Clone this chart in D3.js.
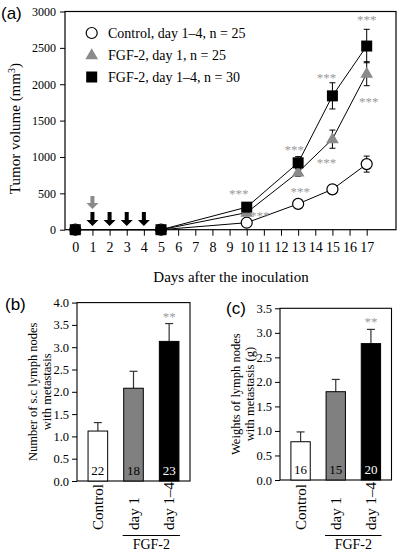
<!DOCTYPE html>
<html><head><meta charset="utf-8">
<script src="https://cdn.jsdelivr.net/npm/d3@7"></script>
<style>body{margin:0;background:#fff}svg{display:block}
.serif{font-family:"Liberation Serif","DejaVu Serif",serif}
.sans{font-family:"Liberation Sans","DejaVu Sans",sans-serif}
</style>
</head><body>
<svg id="c" width="400" height="552"></svg>
<script>
// ---------- data ----------
const days = [0, 5, 10, 13, 15, 17];
const controlMean = [0, 0, 96, 355, 555, 902];
const controlErr  = [0, 0, 15, 25, 65, 110];
const fgfDay1Mean = [0, 0, 235, 790, 1245, 2145];
const fgfDay1Err  = [0, 0, 20, 55, 125, 165];
const fgfDay14Mean = [0, 0, 310, 920, 1840, 2525];
const fgfDay14Err  = [0, 0, 30, 85, 180, 230];
const xTicks = d3.range(0, 18);
const yTicksA = [0, 500, 1000, 1500, 2000, 2500, 3000];
const legendLabels = ["Control, day 1\u20134, n = 25", "FGF-2, day 1, n = 25", "FGF-2, day 1\u20134, n = 30"];
const blackArrowDays = [1, 2, 3, 4];
const grayArrowDays = [1];
// significance marks: [day, value, dx, dy]
const starsA = [[10, 310, -8, -14], [10, 235, 13, 2], [13, 920, -4, -14], [13, 790, 2, 19],
                [15, 1840, -6, -19], [15, 1245, -6, 23], [17, 2525, 0, -27], [17, 2145, 2, 27]];

const barCats = ["Control", "day 1", "day 1\u20134"];
const nodesMean = [1.12, 2.08, 3.13];
const nodesErr  = [0.19, 0.38, 0.40];
const nodesN = [22, 18, 23];
const weightMean = [0.78, 1.80, 2.78];
const weightErr  = [0.20, 0.25, 0.29];
const weightN = [16, 15, 20];
const yTicksB = d3.range(0, 4.01, 0.5);
const yTicksC = d3.range(0, 3.51, 0.5);

// ---------- drawing ----------
const svg = d3.select("#c");
const GRAY = "#8a8a8a";
const STAR = "#9a9a9a";
const SERIF = '"Liberation Serif","DejaVu Serif",serif';
const SANS = '"Liberation Sans","DejaVu Sans",sans-serif';

// panel (a)
const A = {l: 65, r: 396, t: 11.5, b: 229.7};
const x = d3.scaleLinear().domain([0, 17]).range([75.3, 366.7]);
const y = d3.scaleLinear().domain([0, 3000]).range([A.b, A.t]);
const ga = svg.append("g");

ga.append("text").attr("x", 1).attr("y", 19).style("font-family", SANS).attr("font-size", 17).text("(a)");

const xAx = ga.append("g").attr("transform", `translate(0,${A.b})`)
  .call(d3.axisBottom(x).tickValues(xTicks).tickSize(6).tickPadding(6).tickFormat(d3.format("d")));
xAx.attr("font-family", null);
xAx.select(".domain").remove();
xAx.selectAll("text").style("font-family", SERIF).attr("font-size", 14).attr("fill", "#000");
const yAx = ga.append("g").attr("transform", `translate(${A.l},0)`)
  .call(d3.axisLeft(y).tickValues(yTicksA).tickSize(5).tickPadding(4).tickFormat(d3.format("d")));
yAx.attr("font-family", null);
yAx.select(".domain").remove();
yAx.selectAll("text").style("font-family", SERIF).attr("font-size", 12).attr("fill", "#000");

ga.append("rect").attr("x", A.l).attr("y", A.t).attr("width", A.r - A.l).attr("height", A.b - A.t)
  .attr("fill", "none").attr("stroke", "#000").attr("stroke-width", 1.2);

ga.append("text").attr("transform", `translate(20,${(A.t + A.b) / 2 + 8}) rotate(-90)`)
  .attr("text-anchor", "middle").style("font-family", SERIF).attr("font-size", 15)
  .call(t => { t.append("tspan").text("Tumor volume (mm"); t.append("tspan").attr("baseline-shift", "super").attr("font-size", 10).text("3"); t.append("tspan").text(")"); });
ga.append("text").attr("x", 231).attr("y", 282).attr("text-anchor", "middle")
  .style("font-family", SERIF).attr("font-size", 15).text("Days after the inoculation");

const line = d3.line().x((d, i) => x(days[i])).y(d => y(d));
const series = [
  {m: controlMean, e: controlErr, type: "circle"},
  {m: fgfDay1Mean, e: fgfDay1Err, type: "tri"},
  {m: fgfDay14Mean, e: fgfDay14Err, type: "sq"}
];
series.forEach(s => {
  ga.append("path").attr("d", line(s.m)).attr("fill", "none").attr("stroke", "#000").attr("stroke-width", 1);
});
series.forEach(s => {
  s.m.forEach((v, i) => {
    if (s.e[i] <= 0) return;
    const cx = x(days[i]);
    const g = ga.append("g").attr("stroke", "#000").attr("stroke-width", 1);
    g.append("line").attr("x1", cx).attr("x2", cx).attr("y1", y(v - s.e[i])).attr("y2", y(v + s.e[i]));
    [v - s.e[i], v + s.e[i]].forEach(w => g.append("line").attr("x1", cx - 3).attr("x2", cx + 3).attr("y1", y(w)).attr("y2", y(w)));
  });
});
function marker(g, type, cx, cy) {
  if (type === "circle") g.append("circle").attr("cx", cx).attr("cy", cy).attr("r", 5.5).attr("fill", "#fff").attr("stroke", "#000").attr("stroke-width", 1.2);
  else if (type === "tri") g.append("path").attr("d", d3.symbol(d3.symbolTriangle, 70)()).attr("transform", `translate(${cx},${cy + 0.5})`).attr("fill", GRAY);
  else g.append("rect").attr("x", cx - 5.5).attr("y", cy - 5.5).attr("width", 11).attr("height", 11).attr("fill", "#000");
}
series.forEach(s => s.m.forEach((v, i) => marker(ga, s.type, x(days[i]), y(v))));

starsA.forEach(([d, v, dx, dy]) => {
  ga.append("text").attr("x", x(d) + dx).attr("y", y(v) + dy + 5).attr("text-anchor", "middle")
    .style("font-family", SERIF).attr("font-size", 13).attr("fill", STAR).text("***");
});

function arrow(g, cx, top, bottom, color) {
  const p = d3.path();
  p.moveTo(cx - 2, top); p.lineTo(cx + 2, top); p.lineTo(cx + 2, bottom - 6); p.lineTo(cx + 6, bottom - 6);
  p.lineTo(cx, bottom); p.lineTo(cx - 6, bottom - 6); p.lineTo(cx - 2, bottom - 6); p.closePath();
  g.append("path").attr("d", p.toString()).attr("fill", color);
}
grayArrowDays.forEach(d => arrow(ga, x(d), 196, 209, GRAY));
blackArrowDays.forEach(d => arrow(ga, x(d), 212, 226, "#000"));

const legY = [33, 55, 77], legTypes = ["circle", "tri", "sq"];
legendLabels.forEach((t, i) => {
  marker(ga, legTypes[i], 91.7, legY[i]);
  ga.append("text").attr("x", 108).attr("y", legY[i] + 5).style("font-family", SERIF).attr("font-size", 14).text(t);
});

// bar panels
function barPanel(opts) {
  const g = svg.append("g");
  const xb = d3.scaleBand().domain(barCats).range([opts.l, opts.r]).paddingInner(0.45).paddingOuter(0.31);
  const yb = d3.scaleLinear().domain([0, opts.max]).range([opts.b, opts.t]);
  g.append("text").attr("x", opts.labX).attr("y", opts.labY).style("font-family", SANS).attr("font-size", 17).text(opts.label);
  const ax = g.append("g").attr("transform", `translate(${opts.l},0)`)
    .call(d3.axisLeft(yb).tickValues(opts.ticks).tickSize(5).tickPadding(3).tickFormat(d3.format(".1f")));
  ax.attr("font-family", null);
  ax.select(".domain").remove();
  ax.selectAll("text").style("font-family", SERIF).attr("font-size", 12.5).attr("fill", "#000");
  g.append("rect").attr("x", opts.l).attr("y", opts.t).attr("width", opts.r - opts.l).attr("height", opts.b - opts.t)
    .attr("fill", "none").attr("stroke", "#000").attr("stroke-width", 1.1);
  const fills = ["#fff", "#808080", "#000"];
  barCats.forEach((c, i) => {
    const bx = xb(c), bw = xb.bandwidth(), cx = bx + bw / 2;
    const top = yb(opts.mean[i]);
    g.append("line").attr("x1", cx).attr("x2", cx).attr("y1", top).attr("y2", yb(opts.mean[i] + opts.err[i])).attr("stroke", "#333").attr("stroke-width", 1.2);
    g.append("line").attr("x1", cx - 4).attr("x2", cx + 4).attr("y1", yb(opts.mean[i] + opts.err[i])).attr("y2", yb(opts.mean[i] + opts.err[i])).attr("stroke", "#333").attr("stroke-width", 1.2);
    g.append("rect").attr("x", bx).attr("y", top).attr("width", bw).attr("height", opts.b - top)
      .attr("fill", fills[i]).attr("stroke", "#000").attr("stroke-width", 1);
    g.append("text").attr("x", cx).attr("y", opts.b - 6).attr("text-anchor", "middle").style("font-family", SERIF)
      .attr("font-size", 13).attr("fill", i === 2 ? "#fff" : "#000").text(opts.n[i]);
    g.append("text").attr("transform", `translate(${cx + 5},530) rotate(-90)`).style("font-family", SERIF)
      .attr("font-size", 15).text(c);
  });
  const last = barCats[2];
  g.append("text").attr("x", xb(last) + xb.bandwidth() / 2).attr("y", yb(opts.mean[2] + opts.err[2]) - 3)
    .attr("text-anchor", "middle").style("font-family", SERIF).attr("font-size", 13).attr("fill", STAR).text("**");
  const x1 = xb(barCats[1]) - 1, x2 = xb(last) + xb.bandwidth() + 1;
  g.append("line").attr("x1", x1).attr("x2", x2).attr("y1", 535.5).attr("y2", 535.5).attr("stroke", "#000").attr("stroke-width", 1);
  g.append("text").attr("x", (x1 + x2) / 2).attr("y", 548.5).attr("text-anchor", "middle").style("font-family", SERIF).attr("font-size", 14).text("FGF-2");
  g.append("text").attr("transform", `translate(${opts.yLabX},${(opts.t + opts.b) / 2}) rotate(-90)`)
    .attr("text-anchor", "middle").style("font-family", SERIF).attr("font-size", 12.5)
    .call(t => opts.yLab.forEach((s, k) => t.append("tspan").attr("x", 0).attr("dy", k === 0 ? 0 : 14).text(s)));
}
barPanel({l: 77, r: 190, t: 302.6, b: 481, max: 4, ticks: yTicksB, mean: nodesMean, err: nodesErr, n: nodesN,
  label: "(b)", labX: 5, labY: 310, yLab: ["Number of s.c lymph nodes", "with metastasis"], yLabX: 37});
barPanel({l: 280, r: 391.5, t: 308.3, b: 480, max: 3.5, ticks: yTicksC, mean: weightMean, err: weightErr, n: weightN,
  label: "(c)", labX: 226, labY: 314, yLab: ["Weights of lymph nodes", "with metastasis (g)"], yLabX: 240});
</script>
</body></html>
